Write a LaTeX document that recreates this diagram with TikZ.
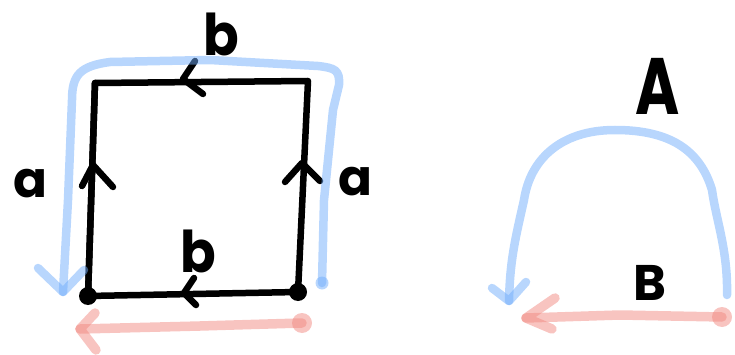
\documentclass[tikz,border=0pt]{standalone}
\usepackage{fontspec}
\usepackage{graphicx}
\setmainfont{Poppins}
\usetikzlibrary{calc}
\definecolor{penblue}{RGB}{113,173,251}
\definecolor{penred}{RGB}{241,137,129}
\tikzset{
  ink/.style={line width=6.5pt, line cap=round, line join=round, black},
  blueink/.style={line width=8.5pt, line cap=round, line join=round, penblue, draw opacity=0.5},
  redink/.style={line width=9.5pt, line cap=round, line join=round, penred, draw opacity=0.5},
  lbl/.style={inner sep=0pt, font=\fontsize{50}{50}\selectfont\bfseries},
}
\begin{document}
\begin{tikzpicture}[x=1pt,y=-1pt]
\useasboundingbox (0,0) rectangle (735,355);

% square corners
\coordinate (tl) at (95,83);
\coordinate (tr) at (308,81);
\coordinate (bl) at (88,296);
\coordinate (br) at (298,292);

% edges of the square
\draw[ink] (tl) -- (tr) -- (br) -- (bl) -- cycle;
\draw[ink] (bl) -- (tl);

% direction marks on the edges
\coordinate (la) at (93,165);
\draw[ink] (82,186) -- (la) -- (113,187);
\coordinate (ra) at (302,163);
\draw[ink] (285,182) -- (ra) -- (320,181);
\coordinate (ta) at (183,79);
\draw[ink] (195,61) -- (ta) -- (203,94);
\coordinate (ba) at (184,293);
\draw[ink] (194,278) -- (ba) -- (196,305);

% base points
\fill (bl) circle (9);
\fill (br) circle (9);

% edge labels
\node[lbl] (a1) at (30,184) {a};
\node[lbl] (a2) at (355,182) {a};
\node[lbl] (b1) at (221,34) {\scalebox{1.05}[1.15]{b}};
\node[lbl] (b2) at (198,251) {\scalebox{1.05}[1.15]{b}};

% blue loop around the square
\coordinate (bs) at (322,283);
\coordinate (be) at (63,292);
\draw[blueink] (bs) -- (324,200) -- (333,110) -- (339,85)
  .. controls (340,70) and (335,68) .. (318,66)
  -- (210,60) -- (110,62)
  .. controls (80,66) and (72,75) .. (72,100)
  -- (68,200) -- (be);
\fill[penblue, opacity=0.5] (bs) circle (6.5);
\draw[blueink] (38,268) -- (be) -- (84,270);

% red path below the square
\coordinate (rs) at (302,323);
\coordinate (re) at (80,329);
\draw[redink] (rs) -- (200,326) -- (re);
\fill[penred, opacity=0.5] (rs) circle (10);
\draw[redink] (95,313) -- (re) -- (96,350);

% right-hand figure
\coordinate (cs) at (727,295);
\coordinate (ce) at (509,301);
\draw[blueink] (cs) .. controls (728,250) and (716,220) .. (712,190)
  .. controls (700,150) and (670,130) .. (615,130)
  .. controls (560,130) and (530,160) .. (524,200)
  .. controls (515,240) and (510,260) .. (ce);
\draw[blueink] (492,288) -- (ce) -- (526,282);

\coordinate (ds) at (722,317);
\coordinate (de) at (526,318);
\draw[redink] (ds) -- (620,315) -- (de);
\fill[penred, opacity=0.5] (ds) circle (10);
\draw[redink] (555,298) -- (de) -- (552,329);

\node[lbl] (A) at (658,86) {\scalebox{1.2}[1.6]{A}};
\node[lbl] (B) at (650,283) {B};
\end{tikzpicture}
\end{document}
